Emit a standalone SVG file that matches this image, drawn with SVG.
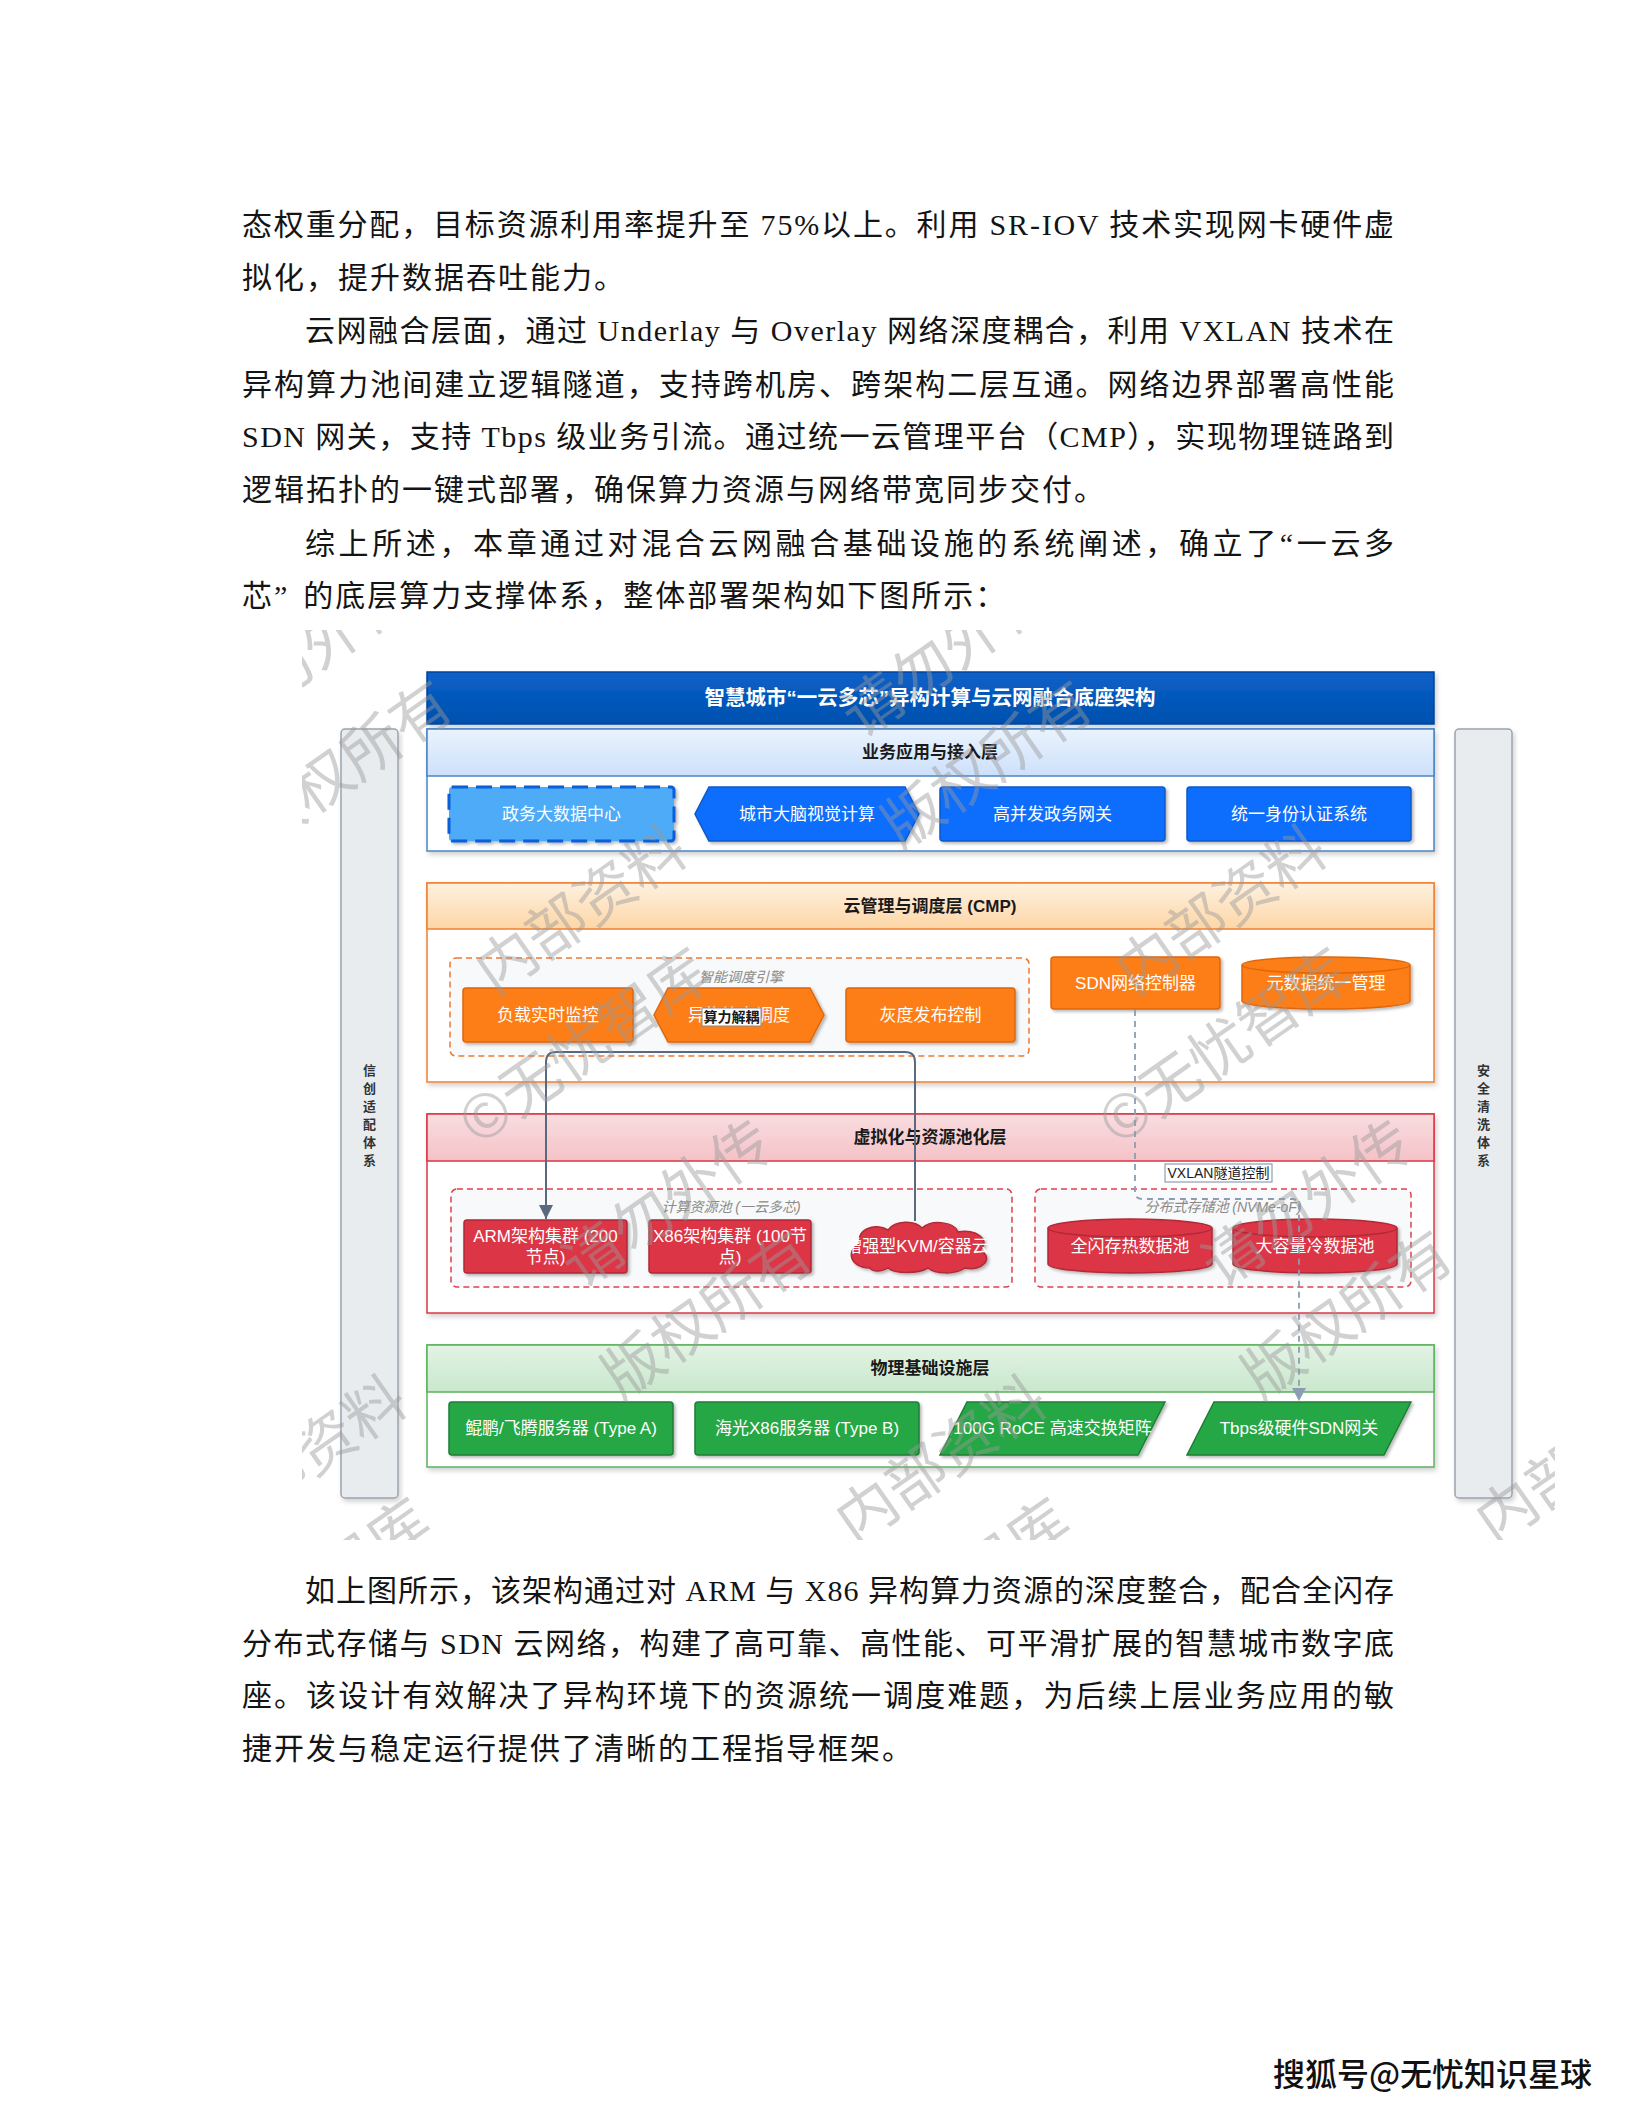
<svg xmlns="http://www.w3.org/2000/svg" width="1632" height="2112" viewBox="0 0 1632 2112">
<defs>
<style>
.body{font-family:"Liberation Serif","Noto Sans CJK SC",serif;font-size:30px;fill:#141414}
.nt{font-family:"Liberation Sans","Noto Sans CJK SC",sans-serif;font-size:17px;fill:#fff;text-anchor:middle}
.hd{font-family:"Liberation Sans","Noto Sans CJK SC",sans-serif;font-size:17px;font-weight:bold;fill:#1a1a1a;text-anchor:middle}
.tt{font-family:"Liberation Sans","Noto Sans CJK SC",sans-serif;font-size:20.5px;font-weight:bold;fill:#fff;text-anchor:middle}
.gl{font-family:"Liberation Sans","Noto Sans CJK SC",sans-serif;font-size:14px;font-style:italic;fill:#8a8a8a;text-anchor:middle}
.el{font-family:"Liberation Sans","Noto Sans CJK SC",sans-serif;font-size:14px;fill:#1a1a1a;text-anchor:middle}
.vt{font-family:"Liberation Sans","Noto Sans CJK SC",sans-serif;font-size:13px;font-weight:bold;fill:#333;text-anchor:middle}
.wm{font-family:"Noto Sans CJK SC",sans-serif;font-size:60px;fill:#9a9a9a;fill-opacity:0.45;text-anchor:middle}
.blue{fill:#0d6efd;stroke:#0a58ca;stroke-width:1.5}
.orange{fill:#fd7e14;stroke:#e0660a;stroke-width:1.5}
.red{fill:#dc3545;stroke:#b02a37;stroke-width:1.5}
.green{fill:#28a745;stroke:#1e7e34;stroke-width:1.5}
.grp-o{fill:#f8f9fa;stroke:#f07830;stroke-width:1.5;stroke-dasharray:6 4}
.grp-r{fill:#f8f9fa;stroke:#e0404e;stroke-width:1.5;stroke-dasharray:6 4}
.side{fill:#e9ecef;stroke:#9aa3ad;stroke-width:1.5}
</style>
<linearGradient id="gTitle" x1="0" y1="0" x2="0" y2="1"><stop offset="0" stop-color="#0a60c8"/><stop offset="1" stop-color="#0050ae"/></linearGradient>
<linearGradient id="gBlue" x1="0" y1="0" x2="0" y2="1"><stop offset="0" stop-color="#eaf3fe"/><stop offset="1" stop-color="#cde0fa"/></linearGradient>
<linearGradient id="gOrange" x1="0" y1="0" x2="0" y2="1"><stop offset="0" stop-color="#fef1e0"/><stop offset="1" stop-color="#fdd6a6"/></linearGradient>
<linearGradient id="gRed" x1="0" y1="0" x2="0" y2="1"><stop offset="0" stop-color="#f9dde0"/><stop offset="1" stop-color="#f4c2c7"/></linearGradient>
<linearGradient id="gGreen" x1="0" y1="0" x2="0" y2="1"><stop offset="0" stop-color="#e3f3e5"/><stop offset="1" stop-color="#c8e8cc"/></linearGradient>
<filter id="sh" x="-10%" y="-20%" width="125%" height="150%"><feDropShadow dx="2" dy="2" stdDeviation="1.8" flood-color="#000" flood-opacity="0.28"/></filter>
<filter id="shL" x="-10%" y="-10%" width="120%" height="120%"><feDropShadow dx="2" dy="3" stdDeviation="2.5" flood-color="#000" flood-opacity="0.18"/></filter>
<marker id="arS" markerUnits="userSpaceOnUse" markerWidth="14" markerHeight="14" refX="14" refY="7" orient="auto"><path d="M0,0 L14,7 L0,14 Z" fill="#5a6a7e"/></marker>
<marker id="arD" markerUnits="userSpaceOnUse" markerWidth="14" markerHeight="14" refX="13" refY="7" orient="auto"><path d="M0,0 L13,7 L0,14 Z" fill="#8c9db3"/></marker>
<clipPath id="wmClip"><rect x="302" y="630" width="1253" height="910"/></clipPath>
</defs>
<rect x="0" y="0" width="1632" height="2112" fill="#fff"/>

<g id="text-top">
<text class="body" x="242" y="235" textLength="1152" lengthAdjust="spacing">态权重分配，目标资源利用率提升至 75%以上。利用 SR-IOV 技术实现网卡硬件虚</text>
<text class="body" x="242" y="288" letter-spacing="2">拟化，提升数据吞吐能力。</text>
<text class="body" x="305" y="341" textLength="1089" lengthAdjust="spacing">云网融合层面，通过 Underlay 与 Overlay 网络深度耦合，利用 VXLAN 技术在</text>
<text class="body" x="242" y="395" textLength="1152" lengthAdjust="spacing">异构算力池间建立逻辑隧道，支持跨机房、跨架构二层互通。网络边界部署高性能</text>
<text class="body" x="242" y="447" textLength="1152" lengthAdjust="spacing">SDN 网关，支持 Tbps 级业务引流。通过统一云管理平台（CMP），实现物理链路到</text>
<text class="body" x="242" y="500" letter-spacing="2">逻辑拓扑的一键式部署，确保算力资源与网络带宽同步交付。</text>
<text class="body" x="305" y="554" textLength="1089" lengthAdjust="spacing">综上所述，本章通过对混合云网融合基础设施的系统阐述，确立了“一云多</text>
<text class="body" x="242" y="606" letter-spacing="2">芯”<tspan dx="14">的底层算力支撑体系，整体部署架构如下图所示：</tspan></text>
</g>

<g id="side-left"><rect class="side" x="341" y="729" width="57" height="769" rx="4" filter="url(#shL)"/>
<text class="vt" x="369.5" y="1075"><tspan x="369.5">信</tspan><tspan x="369.5" dy="18">创</tspan><tspan x="369.5" dy="18">适</tspan><tspan x="369.5" dy="18">配</tspan><tspan x="369.5" dy="18">体</tspan><tspan x="369.5" dy="18">系</tspan></text></g>
<g id="side-right"><rect class="side" x="1455" y="729" width="57" height="769" rx="4" filter="url(#shL)"/>
<text class="vt" x="1483.5" y="1075"><tspan x="1483.5">安</tspan><tspan x="1483.5" dy="18">全</tspan><tspan x="1483.5" dy="18">清</tspan><tspan x="1483.5" dy="18">洗</tspan><tspan x="1483.5" dy="18">体</tspan><tspan x="1483.5" dy="18">系</tspan></text></g>

<g id="title"><rect x="427" y="672" width="1007" height="52" fill="url(#gTitle)" stroke="#00439a" stroke-width="1.5" filter="url(#shL)"/>
<text class="tt" x="930" y="705">智慧城市“一云多芯”异构计算与云网融合底座架构</text></g>

<g id="layer-app"><rect x="427" y="729" width="1007" height="122" fill="#fff" stroke="#4a84c6" stroke-width="1.5" filter="url(#shL)"/>
<rect x="427" y="729" width="1007" height="47" fill="url(#gBlue)" stroke="#4a84c6" stroke-width="1.5"/>
<text class="hd" x="930" y="758">业务应用与接入层</text></g>

<g id="layer-cmp"><rect x="427" y="883" width="1007" height="199" fill="#fff" stroke="#f08030" stroke-width="1.5" filter="url(#shL)"/>
<rect x="427" y="883" width="1007" height="46" fill="url(#gOrange)" stroke="#f08030" stroke-width="1.5"/>
<text class="hd" x="930" y="912">云管理与调度层 (CMP)</text></g>

<g id="layer-virt"><rect x="427" y="1114" width="1007" height="199" fill="#fff" stroke="#dc3545" stroke-width="1.5" filter="url(#shL)"/>
<rect x="427" y="1114" width="1007" height="47" fill="url(#gRed)" stroke="#dc3545" stroke-width="1.5"/>
<text class="hd" x="930" y="1143">虚拟化与资源池化层</text></g>

<g id="layer-phys"><rect x="427" y="1345" width="1007" height="122" fill="#fff" stroke="#5cb25c" stroke-width="1.5" filter="url(#shL)"/>
<rect x="427" y="1345" width="1007" height="47" fill="url(#gGreen)" stroke="#5cb25c" stroke-width="1.5"/>
<text class="hd" x="930" y="1374">物理基础设施层</text></g>

<g id="group-engine"><rect class="grp-o" x="450" y="958" width="579" height="98" rx="6"/>
<text class="gl" x="741" y="982">智能调度引擎</text></g>
<g id="group-compute"><rect class="grp-r" x="451" y="1189" width="561" height="98" rx="6"/>
<text class="gl" x="731" y="1212">计算资源池 (一云多芯)</text></g>
<g id="group-storage"><rect class="grp-r" x="1035" y="1189" width="376" height="98" rx="6"/>
<text class="gl" x="1223" y="1212">分布式存储池 (NVMe-oF)</text></g>

<g id="n-gov"><rect x="449" y="787" width="225" height="54" rx="3" fill="#4dabf7" stroke="#0b5ed7" stroke-width="3" stroke-dasharray="16 8" filter="url(#sh)"/>
<text class="nt" x="561.5" y="820">政务大数据中心</text></g>
<g id="n-brain"><path class="blue" d="M709,787 L905,787 L919,814 L905,841 L709,841 L695,814 Z" filter="url(#sh)"/>
<text class="nt" x="807" y="820">城市大脑视觉计算</text></g>
<g id="n-gw"><rect class="blue" x="940" y="787" width="225" height="54" rx="3" filter="url(#sh)"/>
<text class="nt" x="1052.5" y="820">高并发政务网关</text></g>
<g id="n-auth"><rect class="blue" x="1187" y="787" width="224" height="54" rx="3" filter="url(#sh)"/>
<text class="nt" x="1299" y="820">统一身份认证系统</text></g>

<g id="n-monitor"><rect class="orange" x="463" y="988" width="170" height="54" rx="3" filter="url(#sh)"/>
<text class="nt" x="548" y="1021">负载实时监控</text></g>
<g id="n-sched"><path class="orange" d="M668,988 L810,988 L824,1015 L810,1042 L668,1042 L654,1015 Z" filter="url(#sh)"/>
<text class="nt" x="739" y="1021">异构算力调度</text></g>
<g id="n-gray"><rect class="orange" x="846" y="988" width="169" height="54" rx="3" filter="url(#sh)"/>
<text class="nt" x="930.5" y="1021">灰度发布控制</text></g>
<g id="n-sdn"><rect class="orange" x="1051" y="957" width="169" height="52" rx="3" filter="url(#sh)"/>
<text class="nt" x="1135.5" y="989">SDN网络控制器</text></g>
<g id="n-meta"><path class="orange" d="M1242,965 A84,8 0 0 1 1410,965 L1410,1001 A84,8 0 0 1 1242,1001 Z" filter="url(#sh)"/>
<path d="M1242,965 A84,8 0 0 0 1410,965" fill="none" stroke="#e0660a" stroke-width="1.5"/>
<text class="nt" x="1326" y="989">元数据统一管理</text></g>

<g id="n-arm"><rect class="red" x="464" y="1220" width="163" height="53" rx="3" filter="url(#sh)"/>
<text class="nt" x="545.5" y="1242">ARM架构集群 (200</text><text class="nt" x="545.5" y="1263">节点)</text></g>
<g id="n-x86"><rect class="red" x="649" y="1220" width="162" height="53" rx="3" filter="url(#sh)"/>
<text class="nt" x="730" y="1242">X86架构集群 (100节</text><text class="nt" x="730" y="1263">点)</text></g>
<g id="n-kvm"><path class="red" d="M870,1268 C850,1268 845,1250 860,1244 C855,1230 875,1222 888,1230 C895,1220 915,1220 922,1228 C932,1219 955,1222 958,1232 C975,1228 992,1240 980,1250 C995,1258 982,1272 965,1268 C955,1275 935,1274 928,1268 C918,1274 895,1274 888,1268 C882,1272 872,1272 870,1268 Z" filter="url(#sh)"/>
<text class="nt" x="917" y="1252">增强型KVM/容器云</text></g>
<g id="n-flash"><path class="red" d="M1048,1228 A82,9 0 0 1 1212,1228 L1212,1264 A82,9 0 0 1 1048,1264 Z" filter="url(#sh)"/>
<path d="M1048,1228 A82,9 0 0 0 1212,1228" fill="none" stroke="#b02a37" stroke-width="1.5"/>
<text class="nt" x="1130" y="1252">全闪存热数据池</text></g>
<g id="n-cold"><path class="red" d="M1233,1228 A82,9 0 0 1 1397,1228 L1397,1264 A82,9 0 0 1 1233,1264 Z" filter="url(#sh)"/>
<path d="M1233,1228 A82,9 0 0 0 1397,1228" fill="none" stroke="#b02a37" stroke-width="1.5"/>
<text class="nt" x="1315" y="1252">大容量冷数据池</text></g>

<g id="n-kp"><rect class="green" x="449" y="1402" width="224" height="53" rx="3" filter="url(#sh)"/>
<text class="nt" x="561" y="1434">鲲鹏/飞腾服务器 (Type A)</text></g>
<g id="n-hg"><rect class="green" x="695" y="1402" width="224" height="53" rx="3" filter="url(#sh)"/>
<text class="nt" x="807" y="1434">海光X86服务器 (Type B)</text></g>
<g id="n-roce"><path class="green" d="M967,1402 L1165,1402 L1138,1455 L940,1455 Z" filter="url(#sh)"/>
<text class="nt" x="1052.5" y="1434">100G RoCE 高速交换矩阵</text></g>
<g id="n-tbps"><path class="green" d="M1214,1402 L1411,1402 L1384,1455 L1187,1455 Z" filter="url(#sh)"/>
<text class="nt" x="1299" y="1434">Tbps级硬件SDN网关</text></g>

<g id="connectors">
<path d="M915,1221 L915,1062 Q915,1052 905,1052 L556,1052 Q546,1052 546,1062 L546,1219" fill="none" stroke="#5a6a7e" stroke-width="2" marker-end="url(#arS)"/>
<rect x="702" y="1008" width="59" height="18" fill="#fff" stroke="#8a8a8a" stroke-width="1"/>
<text class="el" x="731.5" y="1022" font-weight="bold">算力解耦</text>
<path d="M1135,1010 L1135,1192 Q1135,1199 1142,1199 L1292,1199 Q1299,1199 1299,1206 L1299,1401" fill="none" stroke="#8c9db3" stroke-width="1.8" stroke-dasharray="6 5" marker-end="url(#arD)"/>
<rect x="1165" y="1164" width="107" height="18" fill="#fff" stroke="#7a8ca0" stroke-width="1"/>
<text class="el" x="1218.5" y="1178">VXLAN隧道控制</text>
</g>

<g id="watermark" clip-path="url(#wmClip)">
<g transform="translate(-59,910) rotate(-35)"><text class="wm" x="447" y="21">请勿外传</text><text class="wm" x="416" y="135">版权所有</text></g>
<g transform="translate(581,910) rotate(-35)"><text class="wm" x="0" y="21">内部资料</text><text class="wm" x="447" y="21">请勿外传</text><text class="wm" x="-76" y="135">©无忧智库</text><text class="wm" x="416" y="135">版权所有</text></g>
<g transform="translate(1221,910) rotate(-35)"><text class="wm" x="0" y="21">内部资料</text><text class="wm" x="-76" y="135">©无忧智库</text></g>
<g transform="translate(301,1460) rotate(-35)"><text class="wm" x="0" y="21">内部资料</text><text class="wm" x="447" y="21">请勿外传</text><text class="wm" x="-76" y="135">©无忧智库</text><text class="wm" x="416" y="135">版权所有</text></g>
<g transform="translate(941,1460) rotate(-35)"><text class="wm" x="0" y="21">内部资料</text><text class="wm" x="447" y="21">请勿外传</text><text class="wm" x="-76" y="135">©无忧智库</text><text class="wm" x="416" y="135">版权所有</text></g>
<g transform="translate(1581,1460) rotate(-35)"><text class="wm" x="0" y="21">内部资料</text></g>
</g>

<g id="text-bottom">
<text class="body" x="305" y="1601" textLength="1089" lengthAdjust="spacing">如上图所示，该架构通过对 ARM 与 X86 异构算力资源的深度整合，配合全闪存</text>
<text class="body" x="242" y="1654" textLength="1152" lengthAdjust="spacing">分布式存储与 SDN 云网络，构建了高可靠、高性能、可平滑扩展的智慧城市数字底</text>
<text class="body" x="242" y="1706" textLength="1152" lengthAdjust="spacing">座。该设计有效解决了异构环境下的资源统一调度难题，为后续上层业务应用的敏</text>
<text class="body" x="242" y="1759" letter-spacing="2">捷开发与稳定运行提供了清晰的工程指导框架。</text>
</g>

<text x="1273" y="2086" font-family="Noto Sans CJK SC, sans-serif" font-size="32" font-weight="500" fill="#111" stroke="#fff" stroke-width="1" paint-order="stroke">搜狐号@无忧知识星球</text>
</svg>
